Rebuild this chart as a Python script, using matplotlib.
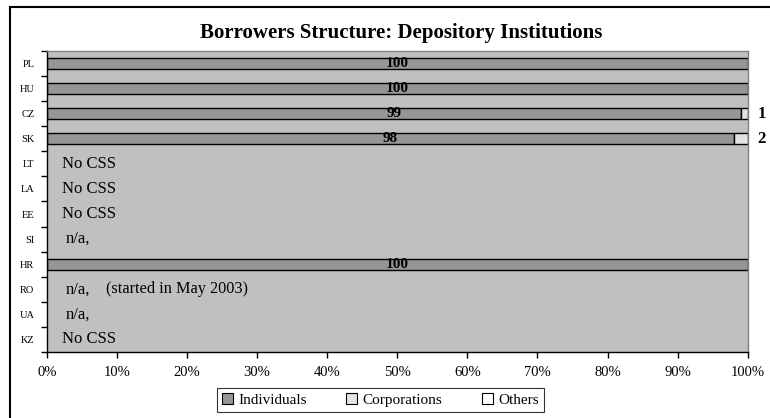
import numpy as np
import matplotlib
matplotlib.use("Agg")
import matplotlib.pyplot as plt
from matplotlib.patches import Rectangle, Patch
from matplotlib.ticker import FixedLocator, PercentFormatter

countries = ["PL", "HU", "CZ", "SK", "LT", "LA", "EE", "SI", "HR", "RO", "UA", "KZ"]
individuals = [100, 100, 99, 98, 0, 0, 0, 0, 100, 0, 0, 0]
corporations = [0, 0, 1, 2, 0, 0, 0, 0, 0, 0, 0, 0]
others = [0, 0, 0, 0, 0, 0, 0, 0, 0, 0, 0, 0]
notes = ["", "", "", "", "No CSS", "No CSS", "No CSS", "n/a,", "", "n/a,", "n/a,", "No CSS"]
note_extra = ["", "", "", "", "", "", "", "", "", "(started in May 2003)", "", ""]

plt.rcParams["font.family"] = ["Liberation Serif", "DejaVu Serif"]

fig = plt.figure(figsize=(7.7, 4.18), dpi=100)
ax = fig.add_axes([0.061, 0.158, 0.910, 0.720])
ax.set_facecolor("#c0c0c0")

y = np.arange(len(countries))
ind = np.array(individuals, dtype=float) / 100
corp = np.array(corporations, dtype=float) / 100
oth = np.array(others, dtype=float) / 100
h = 0.44


def draw_segments(width, left, color):
    keep = width > 0
    ax.barh(y[keep], width[keep], left=left[keep], height=h, color=color,
            edgecolor="black", linewidth=1.0)


draw_segments(ind, np.zeros_like(ind), "#969696")
draw_segments(corp, ind, "#e3e3e3")
draw_segments(oth, ind + corp, "white")

for i in range(len(countries)):
    if individuals[i] > 0:
        ax.text(ind[i] / 2, y[i], f"{individuals[i]:g}", ha="center", va="center",
                fontsize=11, fontweight="bold")
    if corporations[i] > 0:
        ax.text(1.014, y[i], f"{corporations[i]:g}", ha="left", va="center",
                fontsize=12, fontweight="bold", clip_on=False)
    if notes[i]:
        ax.text(0.021 if notes[i] == "No CSS" else 0.026, y[i], notes[i],
                ha="left", va="center", fontsize=12)
    if note_extra[i]:
        ax.text(0.084, y[i], note_extra[i], ha="left", va="center", fontsize=11.7)

ax.set_xlim(0, 1)
ax.set_ylim(len(countries) - 0.5, -0.5)
ax.xaxis.set_major_locator(FixedLocator(np.linspace(0, 1, 11)))
ax.xaxis.set_major_formatter(PercentFormatter(1.0, decimals=0))
ax.tick_params(axis="x", direction="out", length=4, width=1, labelsize=10.5, pad=6)

ax.set_yticks(y)
ax.set_yticklabels(countries)
ax.yaxis.set_minor_locator(FixedLocator(np.arange(-0.5, len(countries), 1.0)))
ax.tick_params(axis="y", which="major", length=0, labelsize=7.5, pad=9)
ax.tick_params(axis="y", which="minor", direction="out", length=4, width=1)

for side in ("left", "bottom"):
    ax.spines[side].set_color("black")
    ax.spines[side].set_linewidth(1.0)
for side in ("top", "right"):
    ax.spines[side].set_color("#808080")
    ax.spines[side].set_linewidth(1.0)

fig.text(0.521, 0.921, "Borrowers Structure: Depository Institutions", ha="center",
         va="center", fontsize=15, fontweight="bold")

handles = [Patch(facecolor="#969696", edgecolor="black", linewidth=0.8),
           Patch(facecolor="#e3e3e3", edgecolor="black", linewidth=0.8),
           Patch(facecolor="white", edgecolor="black", linewidth=0.8)]
leg = fig.legend(handles, ["Individuals", "Corporations", "Others"], loc="center",
                 bbox_to_anchor=(0.494, 0.043), ncol=3, fontsize=11, frameon=True,
                 fancybox=False, edgecolor="black", handlelength=0.7, handleheight=0.7,
                 handletextpad=0.35, columnspacing=2.6, borderpad=0.35, borderaxespad=0)
leg.get_frame().set_linewidth(0.8)

fig.patches.append(Rectangle((10 / 770, -0.1), 1.2, 1.1 - 7 / 418, transform=fig.transFigure,
                             fill=False, edgecolor="black", linewidth=1.5))

fig.savefig("out.png", dpi=100)
